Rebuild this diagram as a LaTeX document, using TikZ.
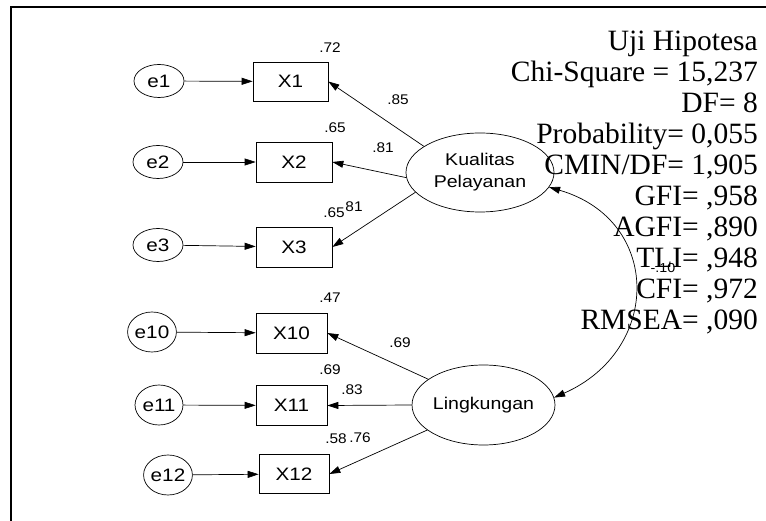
\documentclass[tikz,border=0pt]{standalone}
\usepackage{fontspec}
\setmainfont{Liberation Serif}
\newfontfamily\arialf[FakeStretch=1.15]{Liberation Sans}
\newfontfamily\arials[FakeStretch=1.1]{Liberation Sans}
\usetikzlibrary{arrows.meta,shapes.geometric}
\begin{document}
\begin{tikzpicture}[x=1pt,y=-1pt,
  every node/.style={inner sep=0pt},
  errnode/.style={draw,ellipse,line width=0.7pt,minimum width=50pt,minimum height=33pt,font=\arialf\fontsize{18}{18}\selectfont},
  errnodeb/.style={errnode,minimum width=48pt,minimum height=40pt},
  obsnode/.style={draw,rectangle,line width=0.7pt,minimum width=75pt,minimum height=39pt,font=\arialf\fontsize{18}{18}\selectfont},
  latnode/.style={draw,ellipse,line width=0.7pt,font=\arialf\fontsize{17}{22}\selectfont,align=center},
  coef/.style={font=\arials\fontsize{14}{14}\selectfont},
  arr/.style={line width=0.7pt,-{Triangle[length=11pt,width=7pt]}},
  dblarr/.style={line width=0.7pt,{Triangle[length=11pt,width=7pt]}-{Triangle[length=11pt,width=7pt]}},
  stat/.style={anchor=base east,font=\fontsize{29.5}{29.5}\selectfont}
]
\useasboundingbox (0,0) rectangle (766,521);
\draw[line width=1.5pt] (11,521) -- (11,7) -- (766,7);

% error terms
\node[errnode] (e1) at (159,81) {e1};
\node[errnode] (e2) at (158,162) {e2};
\node[errnode] (e3) at (158,245) {e3};
\node[errnodeb] (e10) at (152,332) {e10};
\node[errnodeb] (e11) at (159,405) {e11};
\node[errnodeb] (e12) at (168,475) {e12};

% observed
\node[obsnode] (x1) at (290.5,81.5) {X1};
\node[obsnode,minimum width=76pt,minimum height=40pt] (x2) at (294,162) {X2};
\node[obsnode,minimum width=76pt,minimum height=40pt] (x3) at (294,247) {X3};
\node[obsnode,minimum width=71pt,minimum height=40pt] (x10) at (291.5,333) {X10};
\node[obsnode,minimum width=71pt,minimum height=40pt] (x11) at (291.5,405.5) {X11};
\node[obsnode,minimum width=70pt,minimum height=39pt] (x12) at (294,474) {X12};

% latent
\node[latnode,minimum width=148pt,minimum height=79pt] (kp) at (480,172.5) {Kualitas\\Pelayanan};
\node[latnode,minimum width=141pt,minimum height=80pt] (lk) at (483.5,405) {Lingkungan};

% arrows
\draw[arr] (e1) -- (x1);
\draw[arr] (e2) -- (x2);
\draw[arr] (e3) -- (x3);
\draw[arr] (e10) -- (x10);
\draw[arr] (e11) -- (x11);
\draw[arr] (e12) -- (x12);
\draw[arr] (kp.155) -- (x1.east);
\draw[arr] (kp.184) -- (x2.east);
\draw[arr] (kp.197) -- (x3.east);
\draw[arr] (lk.155) -- (x10.east);
\draw[arr] (lk.180) -- (x11.east);
\draw[arr] (lk.204) -- (x12.east);
\draw[dblarr] (lk.6) .. controls (662,350) and (662,220) .. (kp.-12);

% coefficients
\node[coef] (r1) at (330,48) {.72};
\node[coef] (r2) at (335,128) {.65};
\node[coef] (r3) at (334,213) {.65};
\node[coef] (r3b) at (354,207) {81};
\node[coef] (l1) at (398,100) {.85};
\node[coef] (l2) at (383,148) {.81};
\node[coef] (r10) at (330,298) {.47};
\node[coef] (r11) at (330,370) {.69};
\node[coef] (r12) at (336,439) {.58};
\node[coef] (l12) at (360,438) {.76};
\node[coef] (l10) at (400,343) {.69};
\node[coef] (l11) at (352,390) {.83};
\node[coef,font=\arials\fontsize{13}{13}\selectfont] (cov) at (663,268) {-.10};

% fit statistics
\node[stat] (s1) at (758,51) {Uji Hipotesa};
\node[stat] (s2) at (758,82) {Chi-Square = 15,237};
\node[stat] (s3) at (758,113) {DF= 8};
\node[stat] (s4) at (758,144) {Probability= 0,055};
\node[stat] (s5) at (758,175) {CMIN/DF= 1,905};
\node[stat] (s6) at (758,206) {GFI= ,958};
\node[stat] (s7) at (758,237) {AGFI= ,890};
\node[stat] (s8) at (758,268) {TLI= ,948};
\node[stat] (s9) at (758,299) {CFI= ,972};
\node[stat] (s10) at (758,330) {RMSEA= ,090};
\end{tikzpicture}
\end{document}
